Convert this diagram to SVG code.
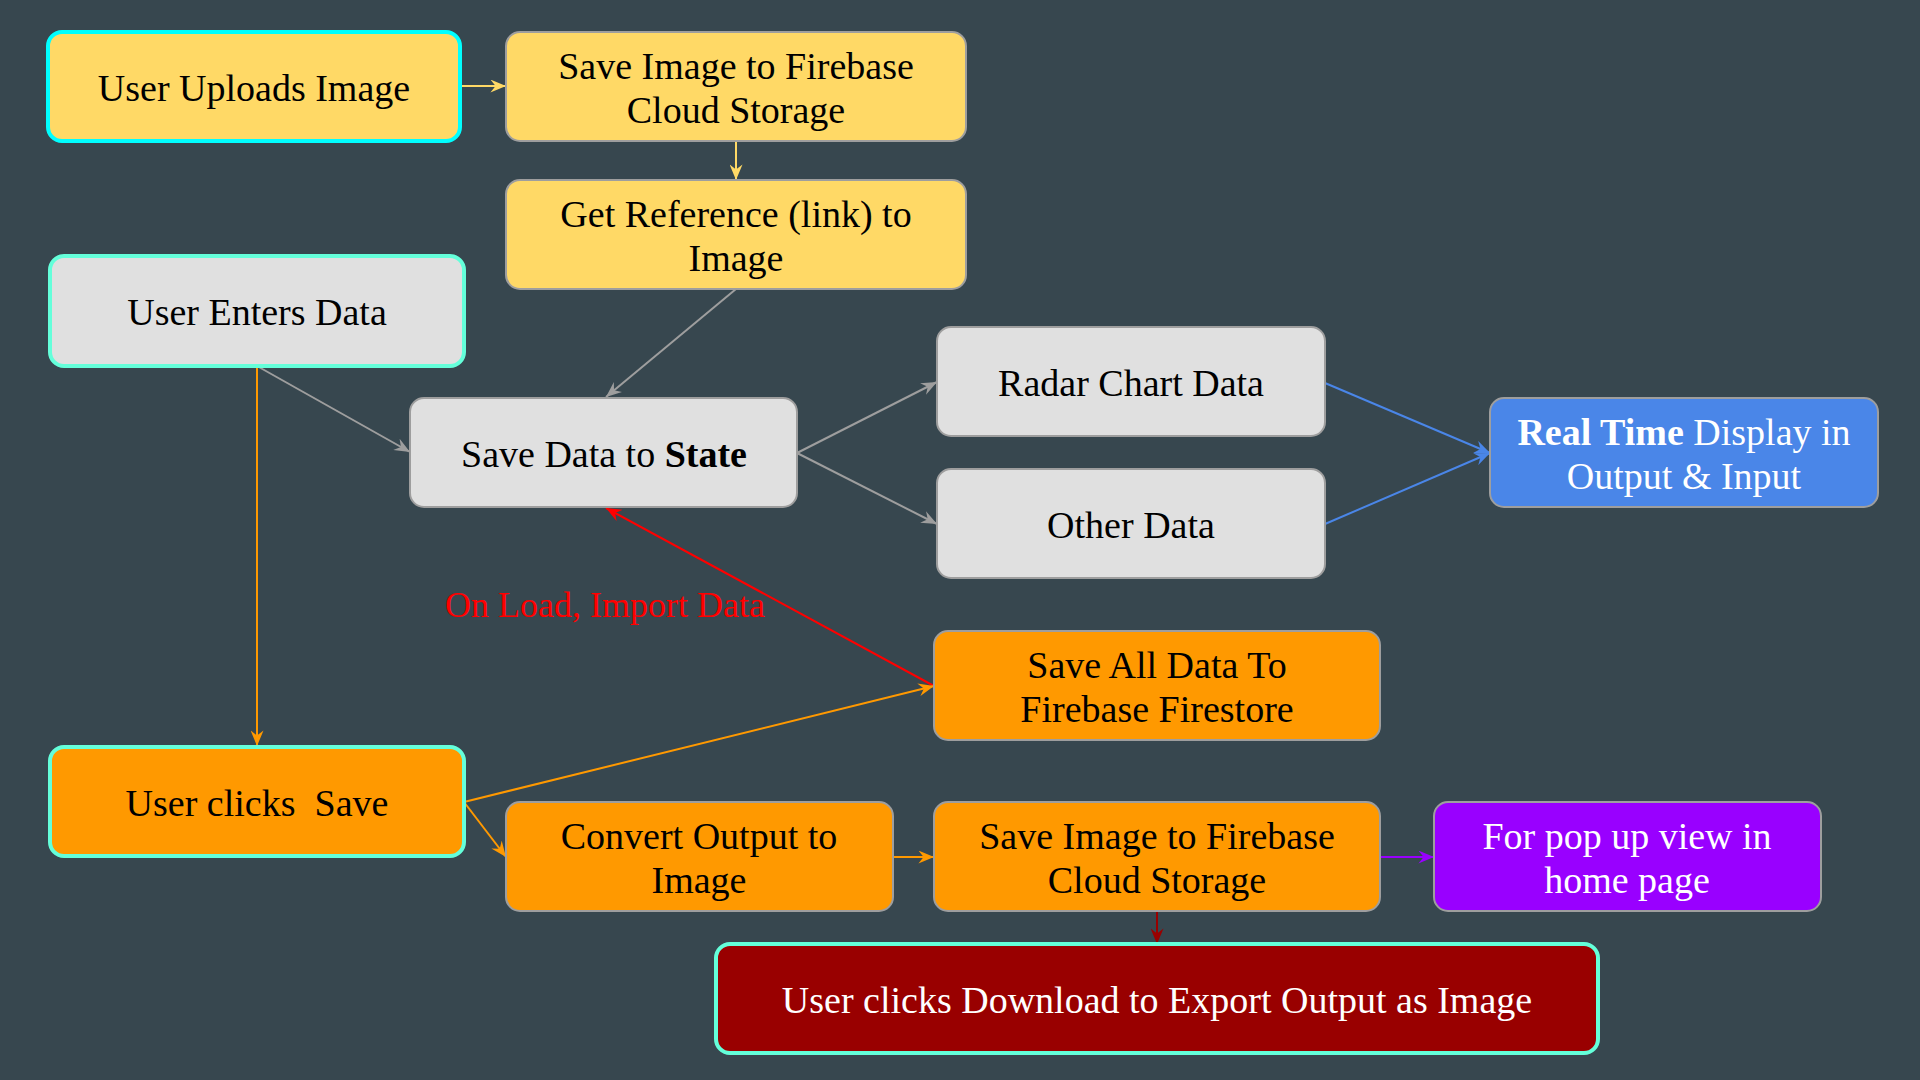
<svg xmlns="http://www.w3.org/2000/svg" width="1920" height="1080" viewBox="0 0 1920 1080">
<defs>
<style>
.n{stroke:#9E9E9E;stroke-width:2}
.hl{stroke:#64FFDA;stroke-width:4}
.cy{stroke:#00FFFF;stroke-width:4}
.t{font-family:"Liberation Serif","DejaVu Serif",serif;font-size:38px;text-anchor:middle;fill:#000}
.w{fill:#FFFFFF}
.e{fill:none;stroke-width:2}
</style>
<marker id="aY" viewBox="0 0 12 10" refX="12" refY="5" markerWidth="16" markerHeight="13" markerUnits="userSpaceOnUse" orient="auto"><path d="M0,0 L12,5 L0,10 L4,5 z" fill="#FFD966"/></marker>
<marker id="aG" viewBox="0 0 12 10" refX="12" refY="5" markerWidth="16" markerHeight="13" markerUnits="userSpaceOnUse" orient="auto"><path d="M0,0 L12,5 L0,10 L4,5 z" fill="#9E9E9E"/></marker>
<marker id="aO" viewBox="0 0 12 10" refX="12" refY="5" markerWidth="16" markerHeight="13" markerUnits="userSpaceOnUse" orient="auto"><path d="M0,0 L12,5 L0,10 L4,5 z" fill="#FF9900"/></marker>
<marker id="aB" viewBox="0 0 12 10" refX="12" refY="5" markerWidth="16" markerHeight="13" markerUnits="userSpaceOnUse" orient="auto"><path d="M0,0 L12,5 L0,10 L4,5 z" fill="#4A86E8"/></marker>
<marker id="aR" viewBox="0 0 12 10" refX="12" refY="5" markerWidth="16" markerHeight="13" markerUnits="userSpaceOnUse" orient="auto"><path d="M0,0 L12,5 L0,10 L4,5 z" fill="#FF0000"/></marker>
<marker id="aP" viewBox="0 0 12 10" refX="12" refY="5" markerWidth="16" markerHeight="13" markerUnits="userSpaceOnUse" orient="auto"><path d="M0,0 L12,5 L0,10 L4,5 z" fill="#9900FF"/></marker>
<marker id="aD" viewBox="0 0 12 10" refX="12" refY="5" markerWidth="16" markerHeight="13" markerUnits="userSpaceOnUse" orient="auto"><path d="M0,0 L12,5 L0,10 L4,5 z" fill="#990000"/></marker>
</defs>
<rect width="1920" height="1080" fill="#37474F"/>
<g id="connectors">
<line class="e" x1="460" y1="86" x2="506" y2="86" stroke="#FFD966" marker-end="url(#aY)"/>
<line class="e" x1="736" y1="141" x2="736" y2="180" stroke="#FFD966" marker-end="url(#aY)"/>
<line class="e" x1="736" y1="289" x2="606" y2="397" stroke="#9E9E9E" marker-end="url(#aG)"/>
<line class="e" x1="257" y1="366" x2="410" y2="452" stroke="#9E9E9E" marker-end="url(#aG)"/>
<line class="e" x1="257" y1="366" x2="257" y2="746" stroke="#FF9900" marker-end="url(#aO)"/>
<line class="e" x1="797" y1="453" x2="937" y2="382" stroke="#9E9E9E" marker-end="url(#aG)"/>
<line class="e" x1="797" y1="453" x2="937" y2="524" stroke="#9E9E9E" marker-end="url(#aG)"/>
<line class="e" x1="1325" y1="383" x2="1490" y2="453" stroke="#4A86E8" marker-end="url(#aB)"/>
<line class="e" x1="1325" y1="524" x2="1490" y2="453" stroke="#4A86E8" marker-end="url(#aB)"/>
<line class="e" x1="934" y1="686" x2="606" y2="508" stroke="#FF0000" marker-end="url(#aR)"/>
<line class="e" x1="464" y1="802" x2="934" y2="686" stroke="#FF9900" marker-end="url(#aO)"/>
<line class="e" x1="464" y1="802" x2="506" y2="857" stroke="#FF9900" marker-end="url(#aO)"/>
<line class="e" x1="893" y1="857" x2="934" y2="857" stroke="#FF9900" marker-end="url(#aO)"/>
<line class="e" x1="1380" y1="857" x2="1434" y2="857" stroke="#9900FF" marker-end="url(#aP)"/>
<line class="e" x1="1157" y1="911" x2="1157" y2="944" stroke="#990000" marker-end="url(#aD)"/>
<text x="605" y="617" font-family="Liberation Serif, DejaVu Serif, serif" font-size="36" text-anchor="middle" fill="#FF0000">On Load, Import Data</text>
</g>
<g id="userUploads">
<rect x="48" y="32" width="412" height="109" rx="14" fill="#FFD966" class="cy"/>
<text class="t" x="254" y="101">User Uploads Image</text>
</g>
<g id="saveImageTop">
<rect x="506" y="32" width="460" height="109" rx="14" fill="#FFD966" class="n"/>
<text class="t" x="736" y="79">Save Image to Firebase</text>
<text class="t" x="736" y="123">Cloud Storage</text>
</g>
<g id="getReference">
<rect x="506" y="180" width="460" height="109" rx="14" fill="#FFD966" class="n"/>
<text class="t" x="736" y="227">Get Reference (link) to</text>
<text class="t" x="736" y="271">Image</text>
</g>
<g id="userEnters">
<rect x="50" y="256" width="414" height="110" rx="14" fill="#E0E0E0" class="hl"/>
<text class="t" x="257" y="325">User Enters Data</text>
</g>
<g id="saveState">
<rect x="410" y="398" width="387" height="109" rx="14" fill="#E0E0E0" class="n"/>
<text class="t" x="604" y="467">Save Data to <tspan font-weight="bold">State</tspan></text>
</g>
<g id="radar">
<rect x="937" y="327" width="388" height="109" rx="14" fill="#E0E0E0" class="n"/>
<text class="t" x="1131" y="396">Radar Chart Data</text>
</g>
<g id="other">
<rect x="937" y="469" width="388" height="109" rx="14" fill="#E0E0E0" class="n"/>
<text class="t" x="1131" y="538">Other Data</text>
</g>
<g id="realTime">
<rect x="1490" y="398" width="388" height="109" rx="14" fill="#4A86E8" class="n"/>
<text class="t w" x="1684" y="445"><tspan font-weight="bold">Real Time</tspan> Display in</text>
<text class="t w" x="1684" y="489">Output &amp; Input</text>
</g>
<g id="saveAll">
<rect x="934" y="631" width="446" height="109" rx="14" fill="#FF9900" class="n"/>
<text class="t" x="1157" y="678">Save All Data To</text>
<text class="t" x="1157" y="722">Firebase Firestore</text>
</g>
<g id="userSave">
<rect x="50" y="747" width="414" height="109" rx="14" fill="#FF9900" class="hl"/>
<text class="t" x="257" y="816">User clicks&#160; Save</text>
</g>
<g id="convert">
<rect x="506" y="802" width="387" height="109" rx="14" fill="#FF9900" class="n"/>
<text class="t" x="699" y="849">Convert Output to</text>
<text class="t" x="699" y="893">Image</text>
</g>
<g id="saveImageBottom">
<rect x="934" y="802" width="446" height="109" rx="14" fill="#FF9900" class="n"/>
<text class="t" x="1157" y="849">Save Image to Firebase</text>
<text class="t" x="1157" y="893">Cloud Storage</text>
</g>
<g id="popup">
<rect x="1434" y="802" width="387" height="109" rx="14" fill="#9900FF" class="n"/>
<text class="t w" x="1627" y="849">For pop up view in</text>
<text class="t w" x="1627" y="893">home page</text>
</g>
<g id="download">
<rect x="716" y="944" width="882" height="109" rx="14" fill="#990000" class="hl"/>
<text class="t w" x="1157" y="1013">User clicks Download to Export Output as Image</text>
</g>
</svg>
